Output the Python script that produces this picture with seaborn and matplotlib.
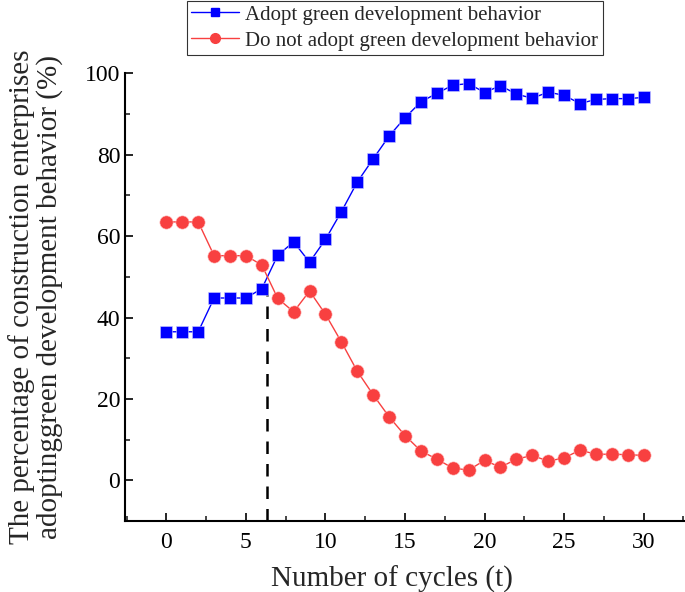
import numpy as np
import pandas as pd
import matplotlib
matplotlib.use('Agg')
import matplotlib.pyplot as plt
import seaborn as sns
from matplotlib.ticker import MultipleLocator
from matplotlib.lines import Line2D

# Data
cycles = list(range(31))
adopt = [36.5, 36.5, 36.5, 44.8, 44.8, 44.8, 47.1, 55.3, 58.6, 53.6,
         59.2, 66.0, 73.3, 79.0, 84.6, 89.1, 93.0, 95.1, 97.1, 97.5,
         95.3, 97.0, 94.9, 93.9, 95.4, 94.6, 92.6, 93.6, 93.8, 93.8, 94.1]
not_adopt = [63.5, 63.5, 63.5, 55.2, 55.2, 55.2, 52.9, 44.7, 41.4, 46.5,
             40.8, 34.0, 26.8, 21.0, 15.6, 11.0, 7.2, 5.2, 3.0, 2.5,
             4.9, 3.2, 5.2, 6.1, 4.7, 5.5, 7.4, 6.4, 6.4, 6.3, 6.1]
cross_x = 6.35
cross_y = 50

label_a = 'Adopt green development behavior'
label_b = 'Do not adopt green development behavior'

df = pd.DataFrame({'t': cycles * 2,
                   'pct': adopt + not_adopt,
                   'group': [label_a] * 31 + [label_b] * 31})

sns.set_style('ticks')
plt.rcParams['font.family'] = ['Liberation Serif', 'DejaVu Serif']
plt.rcParams['xtick.direction'] = 'in'
plt.rcParams['ytick.direction'] = 'in'

fig = plt.figure(figsize=(6.85, 5.92), dpi=100)
ax = fig.add_axes([0.1825, 0.12, 0.8175, 0.756])

palette = {label_a: '#0000FF', label_b: '#F84040'}
sns.lineplot(data=df, x='t', y='pct', hue='group', style='group',
             markers={label_a: 's', label_b: 'o'}, dashes=False,
             palette=palette, linewidth=1.0, markersize=8.5,
             markeredgewidth=0.4, markeredgecolor='#ccccff',
             ax=ax, clip_on=False, legend=False, zorder=3)
for ln in ax.lines:
    if ln.get_marker() == 'o':
        ln.set_markeredgecolor('#ffb0b0')
        ln.set_markersize(9.5)

ax.plot([cross_x, cross_x], [-10, cross_y], color='black', linestyle=(0, (5, 4)),
        linewidth=1.8, zorder=2)

ax.set_xlim(-2.6, 32.6)
ax.set_ylim(-10, 100)
ax.set_xticks(range(0, 31, 5))
ax.xaxis.set_minor_locator(MultipleLocator(2.5))
ax.set_yticks([0, 20, 40, 60, 80, 100])
ax.yaxis.set_minor_locator(MultipleLocator(10))
ax.tick_params(axis='both', which='major', direction='in', length=6, width=1.2,
               labelsize=17, color='black', labelcolor='black')
ax.tick_params(axis='both', which='minor', direction='in', length=3.5, width=1.2)
ax.tick_params(axis='x', pad=8)
for s in ['top', 'right']:
    ax.spines[s].set_visible(False)
for s in ['left', 'bottom']:
    ax.spines[s].set_linewidth(1.5)
    ax.spines[s].set_color('black')

ax.set_xlabel('Number of cycles (t)', fontsize=21)
ax.xaxis.set_label_coords(0.477, -0.10)
ax.set_ylabel('The percentage of construction enterprises\nadoptinggreen development behavior (%)',
              fontsize=21, labelpad=16, linespacing=1.05)

handles = [Line2D([], [], color='#0000FF', marker='s', markersize=6, linewidth=1.0),
           Line2D([], [], color='#F84040', marker='o', markersize=7, linewidth=1.0)]
leg = fig.legend(handles, [label_a, label_b], loc='upper left',
                 bbox_to_anchor=(187 / 685, 1 - 1 / 592), fontsize=15,
                 frameon=True, fancybox=False, edgecolor='black',
                 handlelength=2.3, handletextpad=0.3, borderpad=0.2,
                 labelspacing=0.3, borderaxespad=0)
leg.get_frame().set_linewidth(0.8)

fig.savefig('out.png', dpi=100)
